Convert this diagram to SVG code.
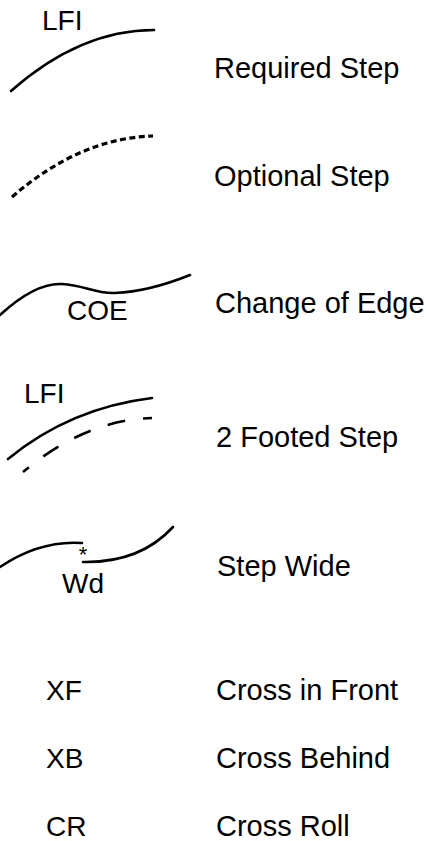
<svg xmlns="http://www.w3.org/2000/svg" width="427" height="841" viewBox="0 0 427 841">
  <style>
    .lbl { font-family: "Liberation Sans", Arial, sans-serif; font-size: 29px; fill: #000; }
    .tag { font-family: "Liberation Sans", Arial, sans-serif; font-size: 28px; fill: #000; }
    .star { font-family: "Liberation Sans", Arial, sans-serif; font-size: 22px; fill: #000; }
    .step { fill: none; stroke: #000; stroke-width: 2.6; stroke-linecap: round; }
    .opt { fill: none; stroke: #000; stroke-width: 3.2; stroke-dasharray: 6 3.5; }
    .two { fill: none; stroke: #000; stroke-width: 2.6; stroke-dasharray: 18 18; stroke-dashoffset: 9; }
  </style>
  <rect width="427" height="841" fill="#fff"/>

  <g id="connectors">
    <!-- required step -->
    <path class="step" d="M11,91 Q80,30 154,30"/>
    <!-- optional step -->
    <path class="opt" d="M12,197 Q80,138 153,136"/>
    <!-- change of edge -->
    <path class="step" d="M0,315 C25,292 45,283 62,284 C84,285 95,294 115,293 C140,292 165,285 190,275"/>
    <!-- two footed step -->
    <path class="step" d="M8,459 Q70,408 152,398"/>
    <path class="two" d="M152,418 Q85,420 23,472"/>
    <!-- step wide -->
    <path class="step" d="M0,567 Q40,540 82,543"/>
    <path class="step" d="M83,562 Q140,563 173,527"/>
  </g>

  <g id="required-step">
    <text class="tag" x="42" y="30">LFI</text>
    <text class="lbl" x="214" y="78">Required Step</text>
  </g>
  <g id="optional-step">
    <text class="lbl" x="214" y="186">Optional Step</text>
  </g>
  <g id="change-of-edge">
    <text class="tag" x="67" y="320">COE</text>
    <text class="lbl" x="215" y="313">Change of Edge</text>
  </g>
  <g id="two-footed-step">
    <text class="tag" x="24" y="403">LFI</text>
    <text class="lbl" x="216" y="447">2 Footed Step</text>
  </g>
  <g id="step-wide">
    <text class="star" x="83" y="562" text-anchor="middle">*</text>
    <text class="tag" x="62" y="593">Wd</text>
    <text class="lbl" x="217" y="576">Step Wide</text>
  </g>
  <g id="cross-in-front">
    <text class="tag" x="46" y="700">XF</text>
    <text class="lbl" x="216" y="700">Cross in Front</text>
  </g>
  <g id="cross-behind">
    <text class="tag" x="46" y="768">XB</text>
    <text class="lbl" x="216" y="768">Cross Behind</text>
  </g>
  <g id="cross-roll">
    <text class="tag" x="46" y="836">CR</text>
    <text class="lbl" x="216" y="836">Cross Roll</text>
  </g>
</svg>
